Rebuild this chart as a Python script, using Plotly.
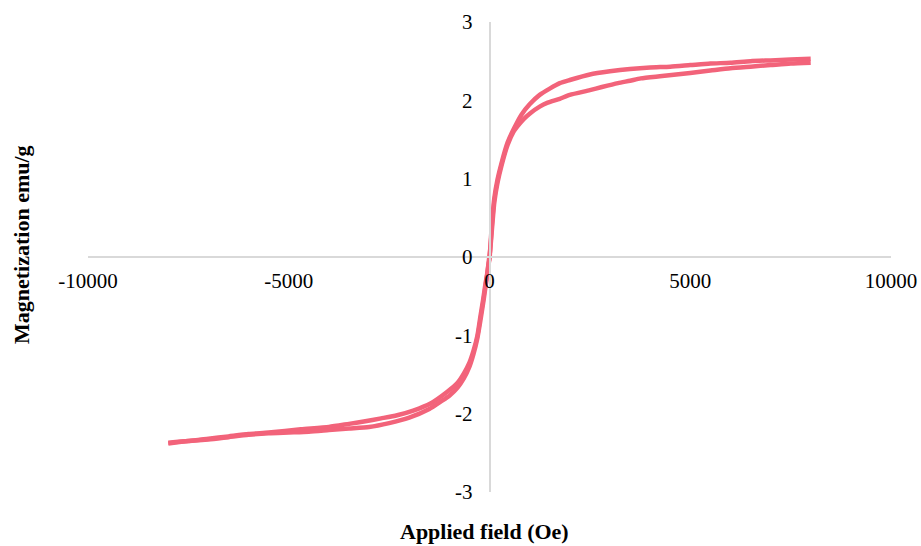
import plotly.graph_objects as go

# Descending branch (from +8000 Oe to -8000 Oe)
h_desc = [8000, 7500, 7000, 6500, 6000, 5500, 5000, 4500, 4000, 3500, 3000, 2500,
          2000, 1750, 1500, 1250, 1000, 800, 600, 450, 300, 200, 120, 60, 20, 0,
          -20, -60, -100, -160, -230, -300, -400, -500, -640, -800, -1050, -1470,
          -1900, -2300, -2700, -3130, -3500, -4000, -4700, -5500, -6000, -6500,
          -7000, -7500, -8000]
m_desc = [2.53, 2.52, 2.51, 2.50, 2.48, 2.47, 2.45, 2.43, 2.42, 2.40, 2.37, 2.33,
          2.26, 2.22, 2.15, 2.07, 1.95, 1.82, 1.63, 1.46, 1.20, 0.99, 0.75, 0.42, 0.12, -0.03,
          -0.08, -0.22, -0.34, -0.55, -0.77, -1.00, -1.20, -1.35, -1.49, -1.61, -1.72, -1.87,
          -1.96, -2.02, -2.06, -2.10, -2.13, -2.17, -2.20, -2.24, -2.26, -2.29,
          -2.32, -2.35, -2.37]

# Ascending branch (from -8000 Oe to +8000 Oe)
h_asc = [-8000, -7500, -7000, -6500, -6000, -5500, -5000, -4500, -4000, -3500, -3000,
         -2500, -2000, -1500, -1200, -1000, -800, -640, -500, -400, -300, -220, -150,
         -100, -50, -20, 0, 20, 60, 120, 200, 300, 450, 600, 700, 850, 1000, 1250,
         1450, 1750, 2000, 2500, 2800, 3200, 3500, 3766, 4300, 5000, 5500, 6000, 6500,
         7000, 7500, 8000]
m_asc = [-2.38, -2.35, -2.33, -2.30, -2.27, -2.25, -2.24, -2.23, -2.21, -2.19, -2.17,
         -2.12, -2.05, -1.94, -1.84, -1.77, -1.67, -1.55, -1.40, -1.24, -1.03, -0.79, -0.56,
         -0.38, -0.20, -0.06, 0.02, 0.10, 0.35, 0.70, 0.95, 1.17, 1.43, 1.60, 1.67, 1.76, 1.83, 1.92,
         1.97, 2.02, 2.07, 2.13, 2.17, 2.22, 2.25, 2.28, 2.31, 2.35, 2.38, 2.41, 2.43,
         2.45, 2.47, 2.48]

x_ticks = [-10000, -5000, 0, 5000, 10000]
x_tick_text = ["-10000", "-5000", "0", "5000", "10000"]
y_ticks = [-3, -2, -1, 0, 1, 2, 3]
y_tick_text = ["-3", "-2", "-1", "0", "1", "2", "3"]

x_title = "Applied field (Oe)"
y_title = "Magnetization emu/g"

color = "#F2637A"
font_family = "Liberation Serif, Times New Roman, serif"

fig = go.Figure()
fig.add_trace(go.Scatter(x=h_desc, y=m_desc, mode="lines",
                         line=dict(color=color, width=4.5, shape="spline", smoothing=0.6),
                         showlegend=False))
fig.add_trace(go.Scatter(x=h_asc, y=m_asc, mode="lines",
                         line=dict(color=color, width=4.5, shape="spline", smoothing=0.6),
                         showlegend=False))

axis_common = dict(showgrid=False, zeroline=False, showline=True,
                   linecolor="#d9d9d9", linewidth=1.5, ticks="", automargin=False,
                   tickfont=dict(family=font_family, size=21, color="#000000"))

W, H = 921, 546
L, R, T, B = 88, 30, 22, 54
pw, ph = W - L - R, H - T - B


def paper_x(px):
    return (px - L) / pw


def paper_y(py):
    return 1 - (py - T) / ph


fig.update_layout(
    width=W, height=H,
    margin=dict(l=L, r=R, t=T, b=B, autoexpand=False),
    paper_bgcolor="white", plot_bgcolor="white",
    xaxis=dict(range=[-10000, 10000], tickvals=x_ticks, ticktext=x_tick_text,
               anchor="free", position=0.5, ticklabelstandoff=5, **axis_common),
    yaxis=dict(range=[-3, 3], tickvals=y_ticks, ticktext=y_tick_text,
               anchor="free", position=0.5, ticklabelstandoff=12, **axis_common),
    annotations=[
        dict(text="<b>" + x_title + "</b>", x=paper_x(484), y=paper_y(531),
             xref="paper", yref="paper", showarrow=False,
             xanchor="center", yanchor="middle",
             font=dict(family=font_family, size=22, color="#000000")),
        dict(text="<b>" + y_title + "</b>", x=paper_x(22), y=paper_y(245),
             xref="paper", yref="paper", showarrow=False, textangle=-90,
             xanchor="center", yanchor="middle",
             font=dict(family=font_family, size=22, color="#000000")),
    ],
)

fig.write_html("out.html")
